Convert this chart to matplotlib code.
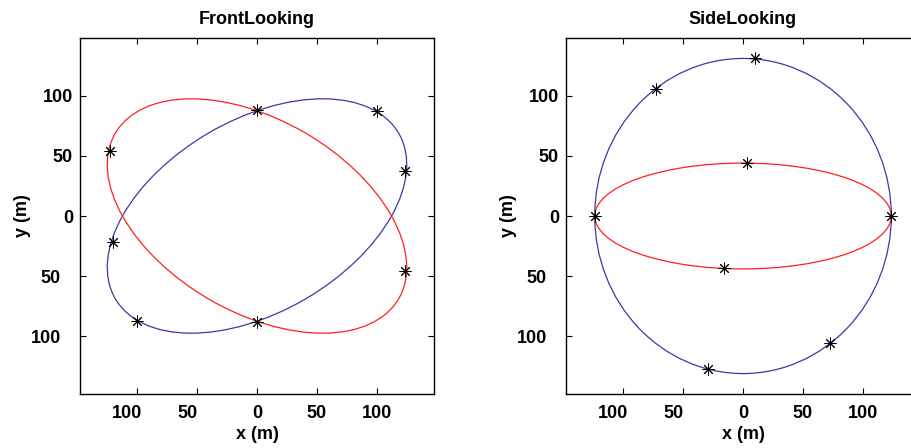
import matplotlib
matplotlib.use('Agg')
import matplotlib.pyplot as plt
from matplotlib.patches import Ellipse
from matplotlib.transforms import ScaledTranslation
import matplotlib.ticker as ticker

plt.rcParams['font.family'] = ['Liberation Sans', 'DejaVu Sans']
plt.rcParams['font.weight'] = 'bold'

BLUE = '#3a3aa6'
RED = '#ff2020'

# ellipses: (width, height, angle) in metres / degrees
front_blue = (274, 160, 30)
front_red = (274, 160, -30)
side_blue = (248, 262, 0)
side_red = (248, 88, 0)

# starred points
front_x = [0, 100, 124, -120, -100, 0, -123, 124]
front_y = [88, 87, 37, -22, -87, -88, 54, -46]
side_x = [10, -73, 3, -124, 124, -16, 73, -29]
side_y = [131, 106, 44, 0, 0, -43, -106, -127]

ticks = [-100, -50, 0, 50, 100]
lim = 148


def draw_panel(ax, title, blue, red, px, py):
    for (w, h, a), c in [(blue, BLUE), (red, RED)]:
        ax.add_patch(Ellipse((0, 0), w, h, angle=a, fill=False,
                             edgecolor=c, linewidth=0.9))
    ax.plot(px, py, linestyle='none', marker=(8, 2, 0), markersize=8.5,
            markeredgewidth=0.7, color='black')
    ax.set_xlim(-lim, lim)
    ax.set_ylim(-lim, lim)
    ax.set_xticks(ticks)
    ax.set_yticks(ticks)
    fmt = ticker.FuncFormatter(lambda v, pos: '{0:g}'.format(abs(v)))
    ax.xaxis.set_major_formatter(fmt)
    ax.yaxis.set_major_formatter(fmt)
    ax.tick_params(direction='in', length=4, width=0.8, top=True, right=True,
                   labelsize=13)
    ax.tick_params(axis='x', pad=8)
    ax.tick_params(axis='y', pad=5)
    for s in ax.spines.values():
        s.set_linewidth(1.0)
    ax.set_title(title, fontsize=13, fontweight='bold', pad=10)
    ax.set_xlabel('x (m)', fontsize=13, fontweight='bold', labelpad=3)
    ax.set_ylabel('y (m)', fontsize=13, fontweight='bold', labelpad=0)


fig = plt.figure(figsize=(9.12, 4.48), dpi=100)
ax1 = fig.add_axes([80/912, 54/448, 354/912, 356/448])
ax2 = fig.add_axes([566/912, 54/448, 354/912, 356/448])

draw_panel(ax1, 'FrontLooking', front_blue, front_red, front_x, front_y)
draw_panel(ax2, 'SideLooking', side_blue, side_red, side_x, side_y)
# right edge of the second panel falls outside the picture
ax2.spines['right'].set_visible(False)
ax2.tick_params(right=False)

# the negative labels sit a little to the left (lost minus sign)
fig.canvas.draw()
for ax in (ax1, ax2):
    for t in ax.xaxis.get_major_ticks():
        if t.get_loc() < 0:
            lab = t.label1
            lab.set_transform(lab.get_transform() +
                              ScaledTranslation(-0.1, 0, fig.dpi_scale_trans))
    for t in ax.yaxis.get_major_ticks():
        if t.get_loc() < 0:
            lab = t.label1
            lab.set_transform(lab.get_transform() +
                              ScaledTranslation(-0.12, 0, fig.dpi_scale_trans))

fig.savefig('out.png', dpi=100)
